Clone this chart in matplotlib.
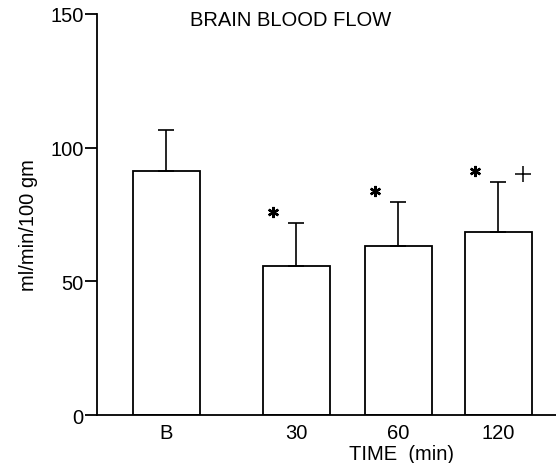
import numpy as np
import matplotlib.pyplot as plt

plt.rcParams['font.family'] = ['Liberation Sans', 'DejaVu Sans']

# data
labels = ["B", "30", "60", "120"]
means = [91.4, 55.8, 63.3, 68.5]
sds = [15.3, 16.1, 16.5, 18.7]
stars = [False, True, True, True]
plus = [False, False, False, True]

# bar layout (B sits a bit apart from the others)
xpos = np.array([0.0, 1.30, 2.32, 3.32])
width = 0.67

fig = plt.figure(figsize=(5.56, 4.64), dpi=100)
ax1 = fig.add_axes([0.1745, 0.1034, 0.8255, 0.8643])

ax1.bar(xpos, means, width, color="white", edgecolor="black", linewidth=1.3)
ax1.errorbar(xpos, means, yerr=[np.zeros(len(sds)), sds], fmt="none",
             ecolor="black", elinewidth=1.2, capsize=5.5, capthick=1.2)

for x, m, s, st, pl in zip(xpos, means, sds, stars, plus):
    top = m + s
    if st:
        ax1.plot(x - 0.23, top + 4.0, marker=(6, 2, 0), ms=8, mew=1.7,
                 color="black", linestyle="none")
    if pl:
        ax1.plot(x + 0.25, top + 2.8, marker="+", ms=11, mew=1.1,
                 color="black", linestyle="none")

ax1.set_xlim(-0.69, 3.90)
ax1.set_ylim(0, 150)
ax1.set_yticks([0, 50, 100, 150])
ax1.set_xticks(xpos)
ax1.set_xticklabels(labels)

ax1.spines["top"].set_visible(False)
ax1.spines["right"].set_visible(False)
ax1.spines["left"].set_linewidth(1.3)
ax1.spines["bottom"].set_linewidth(1.3)

ax1.tick_params(axis="y", direction="out", length=8.5, width=1.3, pad=1, labelsize=14.5)
ax1.tick_params(axis="x", length=0, pad=6, labelsize=14.5)

ax1.set_ylabel("ml/min/100 gm", fontsize=14.5)
ax1.yaxis.set_label_coords(-0.128, 0.476)

fig.text(0.722, 1 - 455 / 464, "TIME  (min)", ha="center", va="center", fontsize=14.5)
fig.text(0.522, 0.955, "BRAIN BLOOD FLOW", ha="center", va="center", fontsize=14.5)

fig.savefig("out.png", dpi=100)
